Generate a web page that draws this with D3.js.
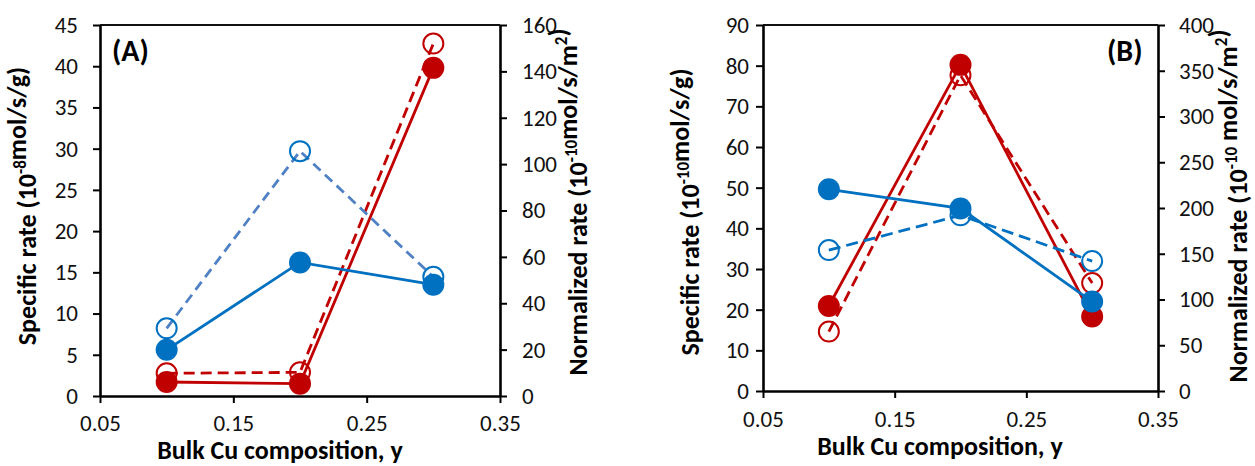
<!DOCTYPE html>
<html>
<head>
<meta charset="utf-8">
<script src="https://cdn.jsdelivr.net/npm/d3@7"></script>
<style>
  body { margin: 0; background: #fff; }
  svg { display: block; font-family: Carlito, Lato, sans-serif; }
</style>
</head>
<body>
<svg id="chart" width="1255" height="466"></svg>
<script>
// x values (bulk Cu composition)
const cuComp = [0.1, 0.2, 0.3];
const xTicks = [0.05, 0.15, 0.25, 0.35];

// panel A
const specA_blue = [5.6, 16.2, 13.5];
const specA_red = [1.7, 1.5, 39.8];
const normA_blue = [29.2, 105.6, 51.4];
const normA_red = [9.8, 10.2, 152];
const leftTicksA = d3.range(0, 46, 5);
const rightTicksA = d3.range(0, 161, 20);

// panel B
const specB_blue = [49.6, 44.9, 22.0];
const specB_red = [20.9, 80.2, 18.3];
const normB_blue = [154, 192, 142];
const normB_red = [65, 345, 118];
const leftTicksB = d3.range(0, 91, 10);
const rightTicksB = d3.range(0, 401, 50);

const red = "#c00000";
const blue = "#0070c0";
const lightBlue = "#4f81c4";

const svg = d3.select("#chart");

function drawPanel(p) {
  const x = d3.scaleLinear().domain([0.05, 0.35]).range([p.left, p.right]);
  const yL = d3.scaleLinear().domain([0, p.leftMax]).range([p.bottom, p.top]);
  const yR = d3.scaleLinear().domain([0, p.rightMax]).range([p.bottom, p.top]);
  const g = svg.append("g");

  // top border
  g.append("line")
    .attr("x1", p.left).attr("x2", p.right)
    .attr("y1", p.top).attr("y2", p.top)
    .attr("stroke", "#111").attr("stroke-width", 1.8);

  const styleAxis = a => {
    a.select(".domain").attr("stroke", "#000").attr("stroke-width", 2.6);
    a.selectAll(".tick line").attr("stroke", "#000").attr("stroke-width", 2);
    a.selectAll(".tick text").attr("fill", "#111").style("font-size", "23px")
      .style("font-family", "Carlito, Lato, sans-serif");
  };

  g.append("g").attr("transform", `translate(0,${p.bottom})`)
    .call(d3.axisBottom(x).tickValues(xTicks).tickFormat(d3.format(".2f"))
      .tickSize(7).tickSizeOuter(0).tickPadding(p.xPad))
    .call(styleAxis);
  g.append("g").attr("transform", `translate(${p.left},0)`)
    .call(d3.axisLeft(yL).tickValues(p.leftTicks).tickSize(7).tickSizeOuter(0).tickPadding(p.lPad))
    .call(styleAxis);
  g.append("g").attr("transform", `translate(${p.right},0)`)
    .call(d3.axisRight(yR).tickValues(p.rightTicks).tickSize(7).tickSizeOuter(0).tickPadding(p.rPad))
    .call(styleAxis);

  // series: solid/filled = specific rate (left), dashed/open = normalized rate (right)
  const series = [
    { vals: p.specRed, y: yL, color: red, dash: null, filled: true },
    { vals: p.normRed, y: yR, color: red, dash: "11,6", filled: false },
    { vals: p.specBlue, y: yL, color: blue, dash: null, filled: true },
    { vals: p.normBlue, y: yR, color: p.dashBlue, dash: p.blueDash, filled: false, mark: blue }
  ];
  const line = s => d3.line().x((d, i) => x(cuComp[i])).y(d => s.y(d));

  series.forEach(s => {
    g.append("path").datum(s.vals)
      .attr("d", line(s))
      .attr("fill", "none")
      .attr("stroke", s.color)
      .attr("stroke-width", 2.8)
      .attr("stroke-dasharray", s.dash);
  });
  series.forEach(s => {
    g.selectAll(null).data(s.vals).join("circle")
      .attr("cx", (d, i) => x(cuComp[i]))
      .attr("cy", d => s.y(d))
      .attr("r", s.filled ? 11 : 10)
      .attr("fill", s.filled ? s.color : "none")
      .attr("stroke", s.filled ? "none" : (s.mark || s.color))
      .attr("stroke-width", 2);
  });

  // panel label
  g.append("text").attr("x", p.labelX).attr("y", p.top + 36)
    .style("font-size", "30px").style("font-weight", "bold")
    .text(p.label);

  // x title
  g.append("text").attr("x", p.xTitleX).attr("y", p.xTitleY)
    .attr("text-anchor", "middle")
    .style("font-size", "26px").style("font-weight", "bold")
    .text("Bulk Cu composition, y");

  // y titles with superscripts
  const yTitle = (tx, ty, parts) => {
    const t = g.append("text")
      .attr("transform", `translate(${tx},${ty}) rotate(-90)`)
      .attr("text-anchor", "middle")
      .style("font-size", "26px").style("font-weight", "bold");
    parts.forEach(([str, sup]) => {
      if (sup) {
        t.append("tspan").attr("dy", -10).style("font-size", "17px").text(str);
        t.append("tspan").attr("dy", 10).text("");
      } else {
        t.append("tspan").text(str);
      }
    });
  };
  yTitle(p.lTitleX, p.lTitleY, p.lTitle);
  yTitle(p.rTitleX, p.rTitleY, p.rTitle);
}

drawPanel({
  left: 100, right: 500, top: 25, bottom: 396,
  leftMax: 45, rightMax: 160, leftTicks: leftTicksA, rightTicks: rightTicksA,
  xPad: 12, lPad: 15, rPad: 15,
  specRed: specA_red, normRed: normA_red, specBlue: specA_blue, normBlue: normA_blue,
  dashBlue: lightBlue, blueDash: "10,6",
  label: "(A)", labelX: 112,
  xTitleX: 280, xTitleY: 459,
  lTitleX: 36, lTitleY: 206,
  lTitle: [["Specific rate (10"], ["-8", true], ["mol/s/g)"]],
  rTitleX: 587, rTitleY: 202,
  rTitle: [["Normalized rate (10"], ["-10", true], ["mol/s/m"], ["2", true], [")"]]
});

drawPanel({
  left: 763, right: 1158, top: 25, bottom: 391,
  leftMax: 90, rightMax: 400, leftTicks: leftTicksB, rightTicks: rightTicksB,
  xPad: 13, lPad: 7, rPad: 14,
  specRed: specB_red, normRed: normB_red, specBlue: specB_blue, normBlue: normB_blue,
  dashBlue: blue, blueDash: "12,6",
  label: "(B)", labelX: 1107,
  xTitleX: 940, xTitleY: 455,
  lTitleX: 699, lTitleY: 212,
  lTitle: [["Specific rate (10"], ["-10", true], ["mol/s/g)"]],
  rTitleX: 1247, rTitleY: 206,
  rTitle: [["Normalized rate (10"], ["-10", true], [" mol/s/m"], ["2", true], [")"]]
});
</script>
</body>
</html>
